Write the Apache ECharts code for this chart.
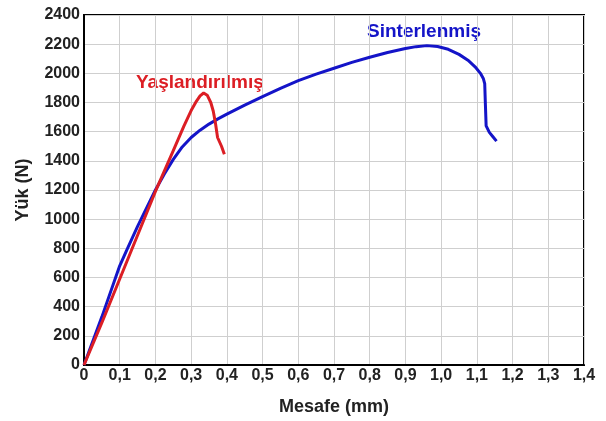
<!DOCTYPE html>
<html>
<head>
<meta charset="utf-8">
<script src="https://cdn.jsdelivr.net/npm/echarts@6/dist/echarts.min.js"></script>
<style>
  html, body { margin: 0; padding: 0; background: #fff; }
  #chart { width: 606px; height: 421px; }
</style>
</head>
<body>
<div id="chart"></div>
<script>
// Yaşlandırılmış (aged) curve
var agedX = [0, 0.05, 0.1, 0.15, 0.2, 0.25, 0.28, 0.3, 0.315, 0.325, 0.335, 0.345, 0.355, 0.362, 0.368, 0.374, 0.385, 0.393];
var agedY = [0, 290, 590, 890, 1190, 1470, 1640, 1745, 1810, 1845, 1865, 1850, 1800, 1740, 1660, 1560, 1500, 1445];
// Sinterlenmiş (sintered) curve
var sintX = [0, 0.05, 0.1, 0.12, 0.15, 0.2, 0.225, 0.25, 0.275, 0.3, 0.325, 0.35, 0.375, 0.4, 0.45, 0.5, 0.55, 0.6, 0.65, 0.7, 0.75, 0.8, 0.85, 0.9, 0.93, 0.96, 0.99, 1.02, 1.05, 1.075, 1.095, 1.11, 1.118, 1.122, 1.124, 1.126, 1.135, 1.145, 1.155];
var sintY = [0, 330, 680, 790, 950, 1200, 1310, 1410, 1495, 1560, 1610, 1652, 1688, 1720, 1782, 1840, 1897, 1950, 1995, 2035, 2075, 2110, 2143, 2170, 2183, 2190, 2184, 2165, 2130, 2090, 2045, 2000, 1965, 1930, 1780, 1640, 1595, 1565, 1535];
var xTicks = ['0', '0,1', '0,2', '0,3', '0,4', '0,5', '0,6', '0,7', '0,8', '0,9', '1,0', '1,1', '1,2', '1,3', '1,4'];

function pairs(xs, ys) {
  return xs.map(function (x, i) { return [x, ys[i]]; });
}

var chart = echarts.init(document.getElementById('chart'));
var font = 'Liberation Sans, Arial, sans-serif';

chart.setOption({
  animation: false,
  grid: {
    left: 84, right: 22, top: 15, bottom: 55,
    show: true, borderColor: '#000', borderWidth: 2
  },
  xAxis: {
    type: 'value', min: 0, max: 1.4, interval: 0.1,
    name: 'Mesafe (mm)', nameLocation: 'middle', nameGap: 33,
    nameTextStyle: { fontFamily: font, fontWeight: 'bold', fontSize: 18, color: '#222' },
    axisLine: { show: true, lineStyle: { color: '#000', width: 2 } },
    axisTick: { show: false },
    axisLabel: {
      margin: 3, fontFamily: font, fontWeight: 'bold', fontSize: 16, color: '#222',
      formatter: function (v) { return xTicks[Math.round(v * 10)]; }
    },
    splitLine: { show: true, lineStyle: { color: '#cfcfcf', width: 1 } }
  },
  yAxis: {
    type: 'value', min: 0, max: 2400, interval: 200,
    name: 'Yük (N)', nameLocation: 'middle', nameGap: 52, nameRotate: 90,
    nameTextStyle: { fontFamily: font, fontWeight: 'bold', fontSize: 18, color: '#222' },
    axisLine: { show: true, lineStyle: { color: '#000', width: 2 } },
    axisTick: { show: false },
    axisLabel: {
      margin: 4, fontFamily: font, fontWeight: 'bold', fontSize: 16, color: '#222',
      formatter: function (v) { return String(v); }
    },
    splitLine: { show: true, lineStyle: { color: '#cfcfcf', width: 1 } }
  },
  series: [
    {
      name: 'Sinterlenmiş', type: 'line', showSymbol: false,
      data: pairs(sintX, sintY),
      lineStyle: { color: '#1414c8', width: 3 }
    },
    {
      name: 'Yaşlandırılmış', type: 'line', showSymbol: false,
      data: pairs(agedX, agedY),
      lineStyle: { color: '#dc1e24', width: 3 }
    }
  ],
  graphic: [
    {
      type: 'text', left: 136, top: 73,
      style: { text: 'Yaşlandırılmış', fill: '#dc1e24', font: 'bold 19px ' + font }
    },
    {
      type: 'text', left: 367, top: 22,
      style: { text: 'Sinterlenmiş', fill: '#1414c8', font: 'bold 19px ' + font }
    }
  ]
});
</script>
</body>
</html>
